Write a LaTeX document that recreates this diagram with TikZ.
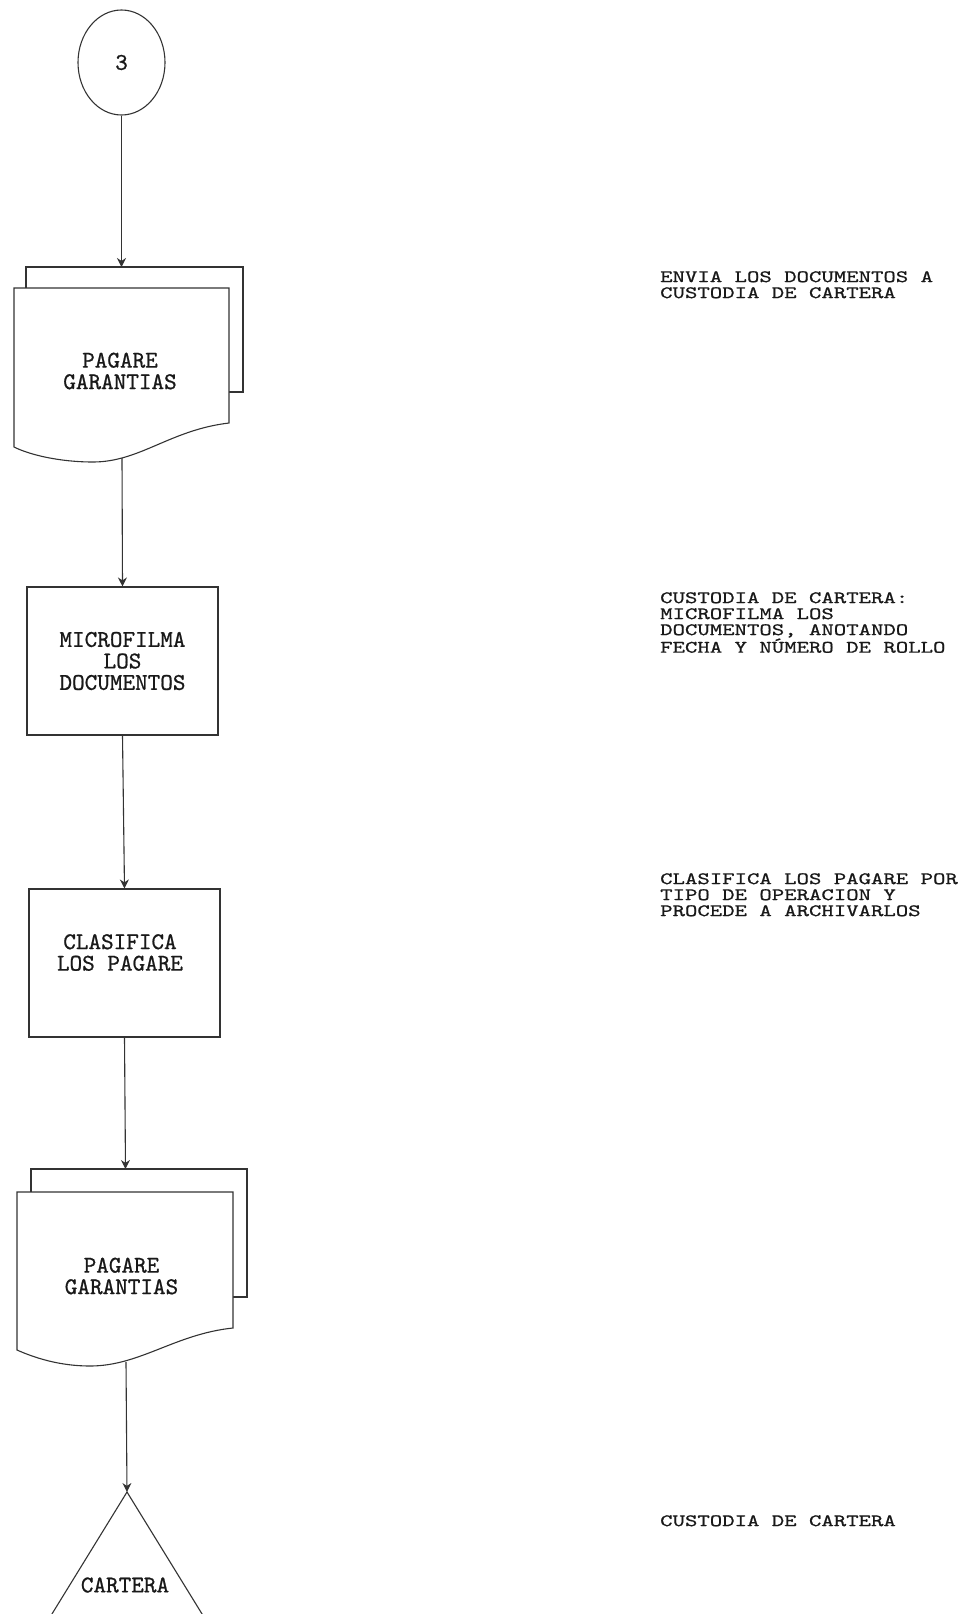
\documentclass[tikz,border=0pt]{standalone}
\usepackage{fontspec}
\usetikzlibrary{shapes.geometric,arrows.meta}
% typewriter faces: one for the shapes, a wide, low one for the side descriptions
\newfontfamily\boxfont{lmmono10-regular.otf}[FakeBold=0.8]
\newfontfamily\notefont{lmmono10-regular.otf}[FakeStretch=1.35,FakeBold=0.8]
\begin{document}
\begin{tikzpicture}[x=1pt,y=-1pt,
  line/.style={draw=black!80,line width=1.1pt},
  flow/.style={draw=black!80,line width=1.1pt,-{Stealth[length=9pt,width=9pt]}},
  lbl/.style={font=\fontsize{24}{21.5}\selectfont\boxfont,text=black!90,align=center,inner sep=0pt},
  note/.style={font=\fontsize{17.5}{16}\selectfont\notefont,text=black!90,align=left,inner sep=0pt,anchor=north west},
  procbox/.style={line,rectangle,minimum width=191pt,minimum height=148pt,inner sep=0pt}
]
\useasboundingbox (0,0) rectangle (961,1614);
\clip (0,0) rectangle (961,1614);

% off-page connector
\node[line,ellipse,minimum width=87pt,minimum height=105pt,inner sep=0pt,lbl] (c3) at (121.5,62.5) {3};

% first document stack
\draw[line] (26,288) |- (243,267) |- (229,392);
\draw[line,fill=white] (14,288) -- (229,288) -- (229,423)
  .. controls (170,430) and (140,462) .. (93,462)
  .. controls (60,462) and (30,455) .. (14,447) -- cycle;
\node[lbl] (d1) at (120,371) {PAGARE\\GARANTIAS};
\coordinate (d1in) at (121.5,267);
\coordinate (d1out) at (122,458);

% processes
\node[procbox,lbl] (b1) at (122.5,661) {MICROFILMA\\LOS\\DOCUMENTOS};
\node[procbox] (b2) at (124.5,963) {};
\node[lbl] (b2t) at (120,952.5) {CLASIFICA\\LOS PAGARE};

% second document stack
\draw[line] (31,1192) |- (247,1169) |- (233,1297);
\draw[line,fill=white] (17,1192) -- (233,1192) -- (233,1328)
  .. controls (175,1334) and (140,1366) .. (90,1366)
  .. controls (60,1366) and (35,1358) .. (17,1350) -- cycle;
\node[lbl] (d2) at (121.5,1276) {PAGARE\\GARANTIAS};
\coordinate (d2in) at (125.5,1169);
\coordinate (d2out) at (126,1362);

% archive
\coordinate (tri) at (127,1492);
\draw[line] (tri) -- (-1,1700) -- (255,1700) -- cycle;
\node[lbl] (tr) at (125,1585) {CARTERA};

% flow
\draw[flow] (c3.south) -- (d1in);
\draw[flow] (d1out) -- (b1.north);
\draw[flow] (b1.south) -- (b2.north);
\draw[flow] (b2.south) -- (d2in);
\draw[flow] (d2out) -- (tri);

% descriptions
\node[note] (n1) at (660,271) {ENVIA LOS DOCUMENTOS A\\CUSTODIA DE CARTERA};
\node[note] (n2) at (660,592) {CUSTODIA DE CARTERA:\\MICROFILMA LOS\\DOCUMENTOS, ANOTANDO\\FECHA Y NÚMERO DE ROLLO};
\node[note] (n3) at (660,873) {CLASIFICA LOS PAGARE POR\\TIPO DE OPERACION Y\\PROCEDE A ARCHIVARLOS};
\node[note] (n4) at (660,1515) {CUSTODIA DE CARTERA};
\end{tikzpicture}
\end{document}
